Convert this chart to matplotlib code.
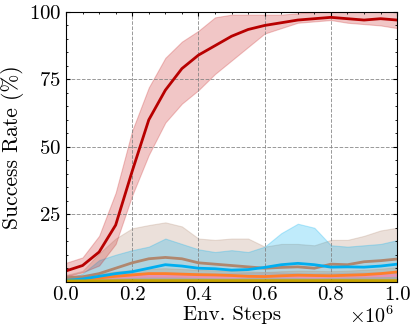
import matplotlib
matplotlib.use('Agg')
import matplotlib.pyplot as plt
import numpy as np
from matplotlib.ticker import MultipleLocator, FuncFormatter

plt.rcParams['font.family'] = 'serif'
plt.rcParams['font.serif'] = ['cmr10']
plt.rcParams['mathtext.fontset'] = 'cm'
plt.rcParams['axes.formatter.use_mathtext'] = True

steps = np.linspace(0, 1e6, 21)

# main method (red)
red_mean = [4, 6, 11, 21, 41, 60, 71, 79, 84, 87.5, 91, 93.5, 95, 96, 97, 97.5, 98, 97.5, 97, 97.5, 97]
red_hi = [7, 9, 17, 33, 56, 72, 83, 89, 93, 98, 99, 99, 99, 99, 99.5, 100, 100, 100, 100, 100, 100]
red_lo = [2, 3.5, 6, 14, 32, 47, 59, 66, 71, 77, 82, 87, 92, 94, 96, 96.5, 97, 96, 95.5, 95, 94]

brown_mean = [1.5, 1.8, 3, 5, 7, 8.5, 9, 8.5, 7, 6.5, 6, 5.5, 5, 5.3, 5.5, 5, 6.5, 6.3, 7.4, 7.8, 8.4]
brown_hi = [2.5, 4, 10.5, 16, 19.8, 21, 22, 20.5, 16, 15.5, 16, 16, 13, 14, 14, 13.5, 15.5, 15.5, 17, 19, 20]
brown_lo = [0.3, 0.3, 0.4, 0.5, 0.6, 0.8, 1, 1, 0.8, 0.7, 0.6, 0.5, 0.5, 0.5, 0.5, 0.5, 0.6, 0.6, 0.7, 0.8, 0.9]

blue_mean = [0.5, 1, 2, 3, 3.7, 5, 6.3, 5.8, 5, 4.8, 4.3, 4.5, 5.3, 6.3, 6.8, 6.3, 5.4, 5.5, 5.4, 5.8, 6.5]
blue_hi = [1, 3, 8, 10, 11.7, 13, 16, 14, 12, 11, 11.7, 11, 13, 18, 21.5, 20, 13.5, 13, 13.5, 14, 15.4]
blue_lo = [0, 0, 0, 0.2, 0.3, 0.4, 0.5, 0.5, 0.4, 0.4, 0.3, 0.3, 0.4, 0.5, 0.5, 0.5, 0.4, 0.4, 0.4, 0.4, 0.5]

orange_mean = [0.8, 1, 1.4, 2, 2.5, 3, 3, 2.8, 2.6, 2.5, 2.3, 2, 1.9, 2.2, 2.4, 2.3, 2.2, 2.4, 2.6, 3, 3.6]
orange_hi = [1.5, 2, 3, 3.8, 4.3, 4.8, 5, 4.7, 4.4, 4.2, 4, 3.8, 3.6, 3.9, 4.1, 4, 3.9, 4.1, 4.4, 4.8, 5.4]
orange_lo = [0.2, 0.3, 0.4, 0.8, 1, 1.3, 1.3, 1.2, 1.1, 1, 0.9, 0.8, 0.7, 0.9, 1, 0.9, 0.9, 1, 1.1, 1.3, 1.7]

pink_mean = [1.5, 1.5, 1.6, 1.7, 1.9, 2, 2, 2, 1.9, 1.8, 1.8, 1.9, 2, 2, 1.9, 1.8, 1.9, 2, 2.1, 2.2, 2.3]
pink_hi = [2.5, 2.5, 2.8, 3, 3.2, 3.3, 3.4, 3.3, 3.2, 3.1, 3.2, 3.3, 3.5, 3.4, 3.2, 3.1, 3.2, 3.3, 3.4, 3.5, 3.6]
pink_lo = [0.6, 0.6, 0.6, 0.7, 0.8, 0.8, 0.8, 0.8, 0.8, 0.7, 0.7, 0.8, 0.8, 0.8, 0.8, 0.7, 0.8, 0.8, 0.9, 0.9, 1]

gray_mean = [1, 1, 1.1, 1.2, 1.3, 1.3, 1.4, 1.3, 1.3, 1.2, 1.2, 1.2, 1.3, 1.3, 1.2, 1.2, 1.3, 1.3, 1.4, 1.4, 1.5]
gray_hi = [1.8, 1.8, 2, 2.2, 2.4, 2.5, 2.6, 2.5, 2.4, 2.3, 2.3, 2.3, 2.4, 2.4, 2.3, 2.3, 2.4, 2.5, 2.6, 2.6, 2.7]
gray_lo = [0.3, 0.3, 0.3, 0.4, 0.4, 0.4, 0.4, 0.4, 0.4, 0.4, 0.4, 0.4, 0.4, 0.4, 0.4, 0.4, 0.4, 0.4, 0.4, 0.4, 0.4]

yellow_mean = [0.3, 0.3, 0.3, 0.35, 0.4, 0.4, 0.4, 0.4, 0.4, 0.4, 0.4, 0.4, 0.4, 0.4, 0.4, 0.4, 0.4, 0.4, 0.4, 0.4, 0.4]

series = [
    (gray_mean, gray_hi, gray_lo, '#aaaaaa', '#aaaaaa'),
    (pink_mean, pink_hi, pink_lo, '#e693b4', '#e693b4'),
    (orange_mean, orange_hi, orange_lo, '#ff7f2a', '#ff7f2a'),
    (brown_mean, brown_hi, brown_lo, '#b0876e', '#b0876e'),
    (blue_mean, blue_hi, blue_lo, '#00aef0', '#00b0f0'),
    (yellow_mean, None, None, '#c8a400', '#c8a400'),
    (red_mean, red_hi, red_lo, '#b80000', '#c81e1e'),
]

fig = plt.figure(figsize=(4.15, 3.32), dpi=100)
ax = fig.add_axes([0.159, 0.1515, 0.798, 0.8125])

for mean, hi, lo, lc, fc in series:
    if hi is not None:
        ax.fill_between(steps, lo, hi, color=fc, alpha=0.25, linewidth=0.8)
    ax.plot(steps, mean, color=lc, linewidth=2)

ax.set_xlim(0, 1e6)
ax.set_ylim(0, 100)
ax.set_yticks([25, 50, 75, 100])
ax.xaxis.set_major_locator(MultipleLocator(2e5))
ax.xaxis.set_minor_locator(MultipleLocator(5e4))
ax.yaxis.set_minor_locator(MultipleLocator(5))
ax.xaxis.set_major_formatter(FuncFormatter(lambda v, p: f'{v / 1e6:.1f}'))
ax.tick_params(which='both', direction='in', top=True, right=True, labelsize=15)
ax.tick_params(which='major', length=3)
ax.tick_params(which='minor', length=1.5)
ax.grid(True, linestyle='--', color='gray', linewidth=0.7, alpha=0.8)

# scale factor, placed beside the x label like in the original
ax.text(0.99, -0.152, r'$\times10^{6}$', transform=ax.transAxes,
        ha='right', va='baseline', fontsize=14.5)

ax.set_xlabel('Env. Steps', fontsize=15, labelpad=1)
ax.set_ylabel('Success Rate (%)', fontsize=15.5, labelpad=3)

plt.savefig('out.png', dpi=100)
